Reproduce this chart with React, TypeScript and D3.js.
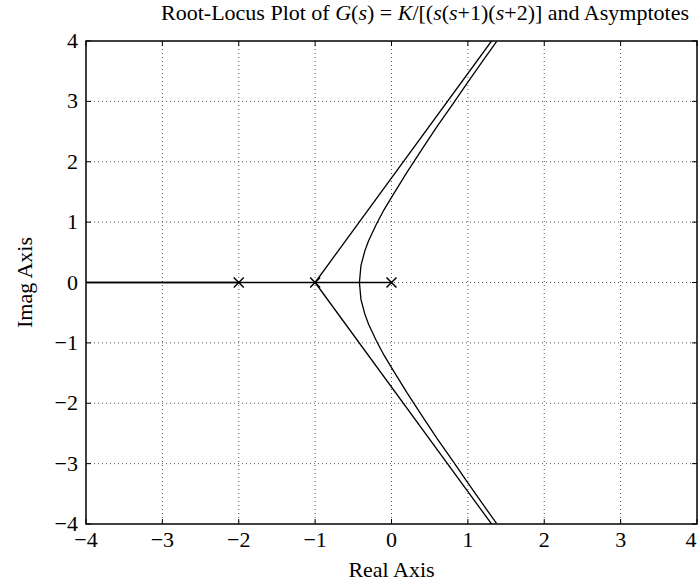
import React, { useEffect, useRef } from 'react';
import * as d3 from 'd3';

// axis ticks
const xTicks = [-4, -3, -2, -1, 0, 1, 2, 3, 4];
const yTicks = [-4, -3, -2, -1, 0, 1, 2, 3, 4];

// open-loop poles of G(s)
const poles = [0, -1, -2];

// complex branch of the locus, upper half (mirrored below)
const locusRe = [-0.42, -0.4, -0.35, -0.3, -0.2, -0.1, 0, 0.2, 0.4, 0.6, 0.8, 1.0, 1.2, 1.375];
const locusIm = [0, 0.28, 0.52, 0.69, 0.96, 1.2, 1.41, 1.82, 2.21, 2.59, 2.95, 3.32, 3.68, 3.99];

// locus on the real axis
const realSegments: [number, number][] = [[-4, -2], [-1, 0]];

// asymptotes: from the centroid out to the frame
const asymRe = [-1, 1.31];
const asymIm = [0, 4];

const W = 700;
const H = 583;
const margin = { top: 41, right: 3, bottom: 59, left: 86 };
const FONT = '"Liberation Serif", "Times New Roman", serif';

export default function App() {
  const svgRef = useRef<SVGSVGElement>(null);

  useEffect(() => {
    if (!svgRef.current) return;
    const svg = d3.select(svgRef.current);
    svg.selectAll('*').remove();

    const x = d3.scaleLinear().domain([-4, 4]).range([margin.left, W - margin.right]);
    const y = d3.scaleLinear().domain([-4, 4]).range([H - margin.bottom, margin.top]);
    const [x0, x1] = x.range();
    const [y0, y1] = y.range();

    svg.append('defs').append('clipPath').attr('id', 'plot-clip')
      .append('rect').attr('x', x0).attr('y', y1).attr('width', x1 - x0).attr('height', y0 - y1);

    // grid
    const grid = svg.append('g').attr('stroke', '#555').attr('stroke-width', 1)
      .attr('stroke-dasharray', '1,3');
    grid.selectAll('.gx').data(xTicks.slice(1, -1)).enter().append('line')
      .attr('x1', d => x(d)).attr('x2', d => x(d)).attr('y1', y1).attr('y2', y0);
    grid.selectAll('.gy').data(yTicks.slice(1, -1)).enter().append('line')
      .attr('y1', d => y(d)).attr('y2', d => y(d)).attr('x1', x0).attr('x2', x1);

    const plot = svg.append('g').attr('clip-path', 'url(#plot-clip)')
      .attr('fill', 'none').attr('stroke', '#000').attr('stroke-width', 1.3);

    const line = d3.line<[number, number]>().x(d => x(d[0])).y(d => y(d[1]));

    const upper: [number, number][] = locusRe.map((r, i) => [r, locusIm[i]]);
    const lower: [number, number][] = locusRe.map((r, i) => [r, -locusIm[i]]);
    plot.append('path').attr('d', line(upper));
    plot.append('path').attr('d', line(lower));

    realSegments.forEach(([a, b]) => {
      plot.append('path').attr('d', line([[a, 0], [b, 0]]));
    });

    const asymUp: [number, number][] = asymRe.map((r, i) => [r, asymIm[i]]);
    const asymDown: [number, number][] = asymRe.map((r, i) => [r, -asymIm[i]]);
    plot.append('path').attr('d', line(asymUp));
    plot.append('path').attr('d', line(asymDown));
    plot.append('path').attr('d', line([[-1, 0], [-4, 0]]));

    // pole markers
    const s = 5;
    const marks = svg.append('g').attr('stroke', '#000').attr('stroke-width', 1.5);
    poles.forEach(p => {
      const cx = x(p), cy = y(0);
      marks.append('path').attr('d', `M${cx - s},${cy - s}L${cx + s},${cy + s}M${cx - s},${cy + s}L${cx + s},${cy - s}`);
    });

    // frame and inward ticks
    svg.append('rect').attr('x', x0).attr('y', y1).attr('width', x1 - x0).attr('height', y0 - y1)
      .attr('fill', 'none').attr('stroke', '#000').attr('stroke-width', 1.5);
    const tl = 5;
    const ticks = svg.append('g').attr('stroke', '#000').attr('stroke-width', 1);
    xTicks.forEach(t => {
      ticks.append('line').attr('x1', x(t)).attr('x2', x(t)).attr('y1', y0).attr('y2', y0 - tl);
      ticks.append('line').attr('x1', x(t)).attr('x2', x(t)).attr('y1', y1).attr('y2', y1 + tl);
    });
    yTicks.forEach(t => {
      ticks.append('line').attr('y1', y(t)).attr('y2', y(t)).attr('x1', x0).attr('x2', x0 + tl);
      ticks.append('line').attr('y1', y(t)).attr('y2', y(t)).attr('x1', x1).attr('x2', x1 - tl);
    });

    const fmt = (v: number) => (v < 0 ? '\u2212' + Math.abs(v) : String(v));
    const txt = svg.append('g').attr('font-family', FONT).attr('fill', '#000');

    txt.selectAll('.xl').data(xTicks).enter().append('text')
      .attr('x', d => Math.min(x(d), W - 9)).attr('y', y0 + 23).attr('text-anchor', 'middle')
      .attr('font-size', 22).text(d => fmt(d));
    txt.selectAll('.yl').data(yTicks).enter().append('text')
      .attr('x', x0 - 8).attr('y', d => y(d) + 7).attr('text-anchor', 'end')
      .attr('font-size', 22).text(d => fmt(d));

    txt.append('text').attr('x', (x0 + x1) / 2).attr('y', H - 6).attr('text-anchor', 'middle')
      .attr('font-size', 22).text('Real Axis');
    txt.append('text').attr('transform', `translate(32,${(y0 + y1) / 2}) rotate(-90)`)
      .attr('text-anchor', 'middle').attr('font-size', 22).text('Imag Axis');

    const title = txt.append('text').attr('x', 425).attr('y', 20)
      .attr('text-anchor', 'middle').attr('font-size', 22);
    const parts: [string, boolean][] = [
      ['Root-Locus Plot of ', false], ['G', true], ['(', false], ['s', true], [') = ', false],
      ['K', true], ['/[(', false], ['s', true], ['(', false], ['s', true], ['+1)(', false],
      ['s', true], ['+2)] and Asymptotes', false],
    ];
    parts.forEach(([t, it]) => {
      title.append('tspan').attr('font-style', it ? 'italic' : 'normal').text(t);
    });
  }, []);

  return (
    <svg ref={svgRef} width={W} height={H}
      style={{ position: 'absolute', left: 0, top: 0, background: '#fff' }} />
  );
}
